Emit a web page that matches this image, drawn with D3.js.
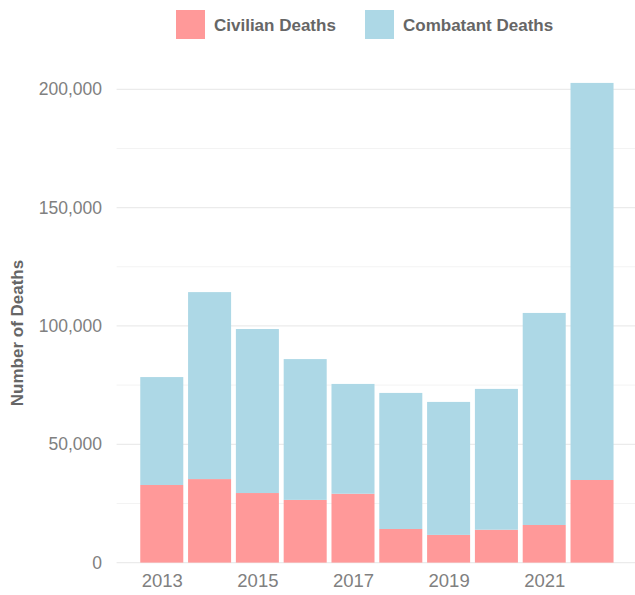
<!DOCTYPE html>
<html>
<head>
<meta charset="utf-8">
<script src="https://cdn.jsdelivr.net/npm/d3@7"></script>
<style>
  body { margin: 0; background: #fff; }
  text { font-family: "Liberation Sans", Arial, sans-serif; }
</style>
</head>
<body>
<div id="chart"></div>
<script>
// data
var years = [2013, 2014, 2015, 2016, 2017, 2018, 2019, 2020, 2021, 2022];
var civilian = [32800, 35300, 29400, 26500, 29100, 14200, 11700, 13900, 15900, 34900];
var combatant = [45600, 79000, 69300, 59500, 46400, 57500, 56200, 59500, 89600, 167800];
var yTicks = [0, 50000, 100000, 150000, 200000];
var xTicks = [2013, 2015, 2017, 2019, 2021];
var seriesNames = ["Civilian Deaths", "Combatant Deaths"];
var seriesColors = ["#ff9999", "#add8e6"];

var width = 635, height = 595;

var svg = d3.select("#chart")
  .append("svg")
    .attr("width", width)
    .attr("height", height);

var rows = years.map(function(y, i) {
  return {year: y, civ: civilian[i], com: combatant[i]};
});

// stack civilian at bottom, combatant on top
var stack = d3.stack().keys(["civ", "com"]);
var layers = stack(rows);

// x is continuous (year), bars are 0.9 year wide, 5% padding each side
var barW = 0.9;
var lo = d3.min(years) - barW / 2, hi = d3.max(years) + barW / 2;
var pad = (hi - lo) * 0.05;
var x = d3.scaleLinear()
  .domain([lo - pad, hi + pad])
  .range([116.6, 637.2]);

var y = d3.scaleLinear()
  .domain([0, 200000])
  .range([562.6, 89.3]);

// minor gridlines
var minor = d3.range(25000, 200001, 50000);
svg.append("g")
  .selectAll("line")
  .data(minor)
  .enter()
  .append("line")
    .attr("x1", x.range()[0])
    .attr("x2", width)
    .attr("y1", function(d) { return y(d); })
    .attr("y2", function(d) { return y(d); })
    .attr("stroke", "#f3f3f3")
    .attr("stroke-width", 1);

// major gridlines
svg.append("g")
  .selectAll("line")
  .data(yTicks)
  .enter()
  .append("line")
    .attr("x1", x.range()[0])
    .attr("x2", width)
    .attr("y1", function(d) { return y(d); })
    .attr("y2", function(d) { return y(d); })
    .attr("stroke", "#ebebeb")
    .attr("stroke-width", 1.2);

// bars
svg.append("g")
  .selectAll("g")
  .data(layers)
  .enter()
  .append("g")
    .attr("fill", function(d, i) { return seriesColors[i]; })
  .selectAll("rect")
  .data(function(d) { return d; })
  .enter()
  .append("rect")
    .attr("x", function(d) { return x(d.data.year - barW / 2); })
    .attr("width", function(d) { return x(d.data.year + barW / 2) - x(d.data.year - barW / 2); })
    .attr("y", function(d) { return y(d[1]); })
    .attr("height", function(d) { return y(d[0]) - y(d[1]); });

// y axis labels
var yAxis = d3.axisLeft(y)
  .tickValues(yTicks)
  .tickFormat(d3.format(","))
  .tickSize(0)
  .tickPadding(0);

svg.append("g")
  .attr("transform", "translate(102,0)")
  .call(yAxis)
  .call(function(g) { g.select(".domain").remove(); })
  .selectAll("text")
    .attr("fill", "#808080")
    .style("font-size", "17.5px")
    .style("font-family", "Liberation Sans, Arial, sans-serif");

// x axis labels
var xAxis = d3.axisBottom(x)
  .tickValues(xTicks)
  .tickFormat(d3.format("d"))
  .tickSize(0)
  .tickPadding(0);

svg.append("g")
  .attr("transform", "translate(0,574)")
  .call(xAxis)
  .call(function(g) { g.select(".domain").remove(); })
  .selectAll("text")
    .attr("fill", "#808080")
    .style("font-size", "18.5px")
    .style("font-family", "Liberation Sans, Arial, sans-serif");

// y axis title
svg.append("text")
  .attr("transform", "translate(23,333) rotate(-90)")
  .attr("text-anchor", "middle")
  .attr("fill", "#666666")
  .style("font-size", "17px")
  .style("font-weight", "bold")
  .text("Number of Deaths");

// legend
var legendX = [176, 365];
var legend = svg.append("g")
  .selectAll("g")
  .data(seriesNames)
  .enter()
  .append("g")
    .attr("transform", function(d, i) { return "translate(" + legendX[i] + ",10)"; });

legend.append("rect")
  .attr("width", 29)
  .attr("height", 29)
  .attr("fill", function(d, i) { return seriesColors[i]; });

legend.append("text")
  .attr("x", 38)
  .attr("y", 20.5)
  .attr("fill", "#666666")
  .style("font-size", "17px")
  .style("font-weight", "bold")
  .text(function(d) { return d; });
</script>
</body>
</html>
